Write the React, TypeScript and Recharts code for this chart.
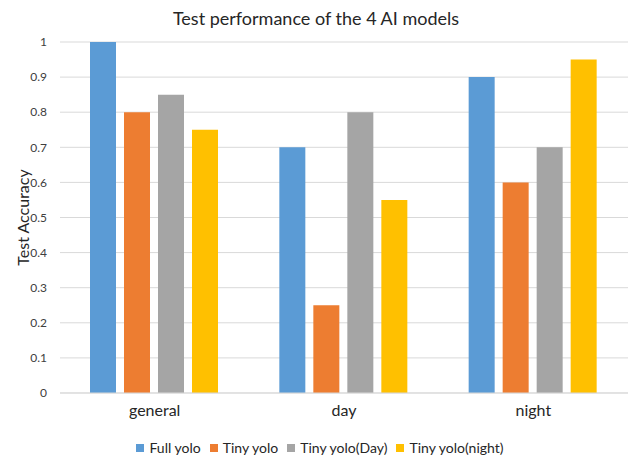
import React from 'react';
import { BarChart, Bar, XAxis, YAxis, CartesianGrid, Legend } from 'recharts';

const categories = ['general', 'day', 'night'];
const fullYolo = [1, 0.7, 0.9];
const tinyYolo = [0.8, 0.25, 0.6];
const tinyYoloDay = [0.85, 0.8, 0.7];
const tinyYoloNight = [0.75, 0.55, 0.95];
const yTicks = [0, 0.1, 0.2, 0.3, 0.4, 0.5, 0.6, 0.7, 0.8, 0.9, 1];
const seriesNames = ['Full yolo', 'Tiny yolo', 'Tiny yolo(Day)', 'Tiny yolo(night)'];
const seriesKeys = ['full', 'tiny', 'tinyDay', 'tinyNight'];
const seriesColors = ['#5B9BD5', '#ED7D31', '#A5A5A5', '#FFC000'];

const data = categories.map((c, i) => ({
  name: c,
  full: fullYolo[i],
  tiny: tinyYolo[i],
  tinyDay: tinyYoloDay[i],
  tinyNight: tinyYoloNight[i],
}));

const FONT = 'Lato, "Open Sans", sans-serif';

const LegendContent = () => (
  <div
    style={{
      height: 25,
      boxSizing: 'border-box',
      paddingTop: 8,
      paddingLeft: 12,
      display: 'flex',
      justifyContent: 'center',
      alignItems: 'center',
      fontFamily: FONT,
      fontSize: 14,
      color: '#262626',
    }}
  >
    {seriesNames.map((n, i) => (
      <span key={n} style={{ display: 'flex', alignItems: 'center', marginRight: i < 3 ? 9 : 0 }}>
        <span style={{ width: 8, height: 8, background: seriesColors[i], display: 'inline-block', marginRight: 5 }} />
        <span>{n}</span>
      </span>
    ))}
  </div>
);

export default function App() {
  return (
    <div style={{ position: 'absolute', left: 0, top: 0, width: 628, height: 456, background: '#fff' }}>
      <div
        style={{
          position: 'absolute',
          left: 0,
          top: 5,
          width: 628,
          textAlign: 'center',
          fontFamily: FONT,
          fontSize: 18,
          color: '#262626',
          lineHeight: '26px',
          paddingLeft: 2,
        }}
      >
        Test performance of the 4 AI models
      </div>
      <BarChart
        width={628}
        height={456}
        data={data}
        margin={{ top: 42, right: 0, left: 0, bottom: 0 }}
        barCategoryGap={30}
        barGap={8}
      >
        <CartesianGrid vertical={false} stroke="#D9D9D9" />
        <XAxis
          dataKey="name"
          height={38}
          tickLine={false}
          tickSize={0}
          tickMargin={12}
          axisLine={{ stroke: '#D9D9D9' }}
          tick={{ fontSize: 16, fill: '#262626', fontFamily: FONT }}
        />
        <YAxis
          width={60}
          domain={[0, 1]}
          ticks={yTicks}
          interval={0}
          axisLine={false}
          tickLine={false}
          tickSize={0}
          tickMargin={13}
          tick={{ fontSize: 12, fill: '#404040', fontFamily: FONT }}
          label={{
            value: 'Test Accuracy',
            angle: -90,
            position: 'center',
            dx: -7,
            style: { fontSize: 16, fill: '#262626', fontFamily: FONT },
          }}
        />
        <Legend verticalAlign="bottom" content={<LegendContent />} />
        {seriesKeys.map((k, i) => (
          <Bar key={k} dataKey={k} name={seriesNames[i]} fill={seriesColors[i]} isAnimationActive={false} />
        ))}
      </BarChart>
    </div>
  );
}
